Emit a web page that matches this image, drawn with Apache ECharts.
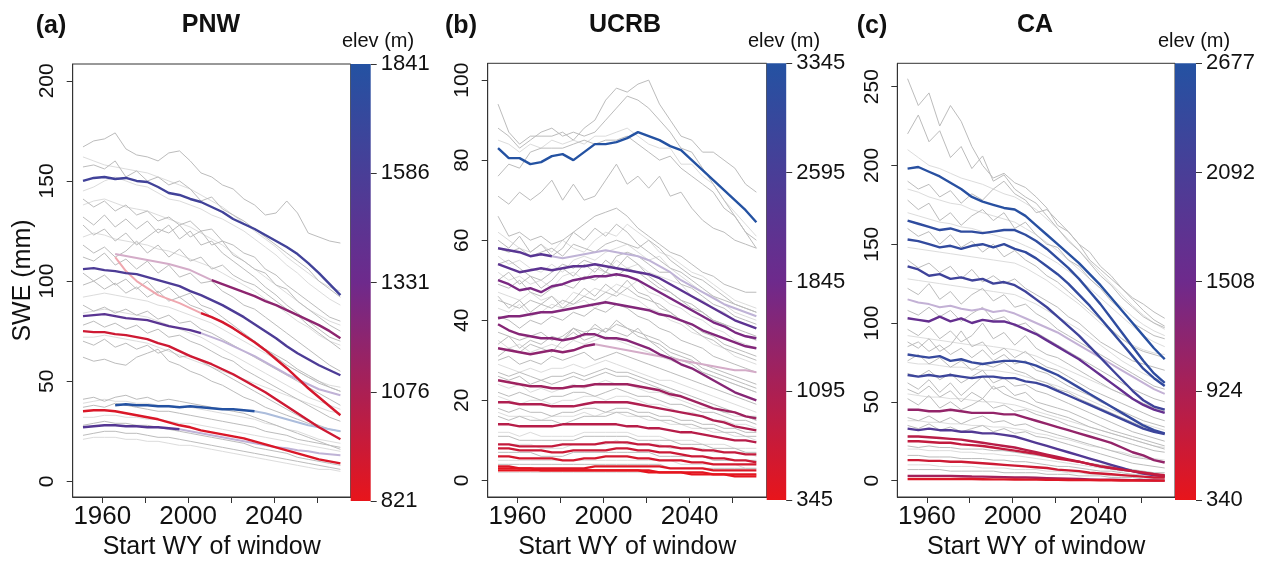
<!DOCTYPE html>
<html><head><meta charset="utf-8">
<script src="https://cdn.jsdelivr.net/npm/echarts@6/dist/echarts.min.js"></script>
<style>html,body{margin:0;background:#fff}#c{width:1270px;height:565px}</style>
</head><body><div id="c"></div>
<script>
const years = [1951,1956,1961,1966,1971,1976,1981,1986,1991,1996,2001,2006,2011,2016,2021,2026,2031,2036,2041,2046,2051,2056,2061,2066,2071];
function seg(start, vals){ const a = new Array(years.length).fill(null); vals.forEach((v,i)=>{a[start+i]=v;}); return a; }

const xTickValues = [1960,1980,2000,2020,2040,2060];
const xLabelValues = [1960,2000,2040];
const panelTitles = ['PNW','UCRB','CA'];
const panelLetters = ['(a)','(b)','(c)'];
const pnwYTicks = [0,50,100,150,200];
const ucrbYTicks = [0,20,40,60,80,100];
const caYTicks = [0,50,100,150,200,250];
const pnwElevTicks = [821,1076,1331,1586,1841];
const ucrbElevTicks = [345,1095,1845,2595,3345];
const caElevTicks = [340,924,1508,2092,2677];

// ---------- PNW ----------
const pnwGreyMid = [
 [167,170,171,174,166,163,162,160,164,165,160,154,152,148,146,141,138,133,134,140,134,124,122,120,119],
 [157,158,156,160,152,155,150,152,148,150,146,140,142,136,133,130,126,122,118,114,110,106,100,96,92],
 [141,137,140,135,138,133,135,130,132,128,130,125,126,120,118,114,112,106,103,98,94,90,86,82,80],
 [132,128,133,127,131,126,130,124,128,121,125,118,120,114,110,106,102,97,93,88,84,80,76,72,70],
 [128,123,126,120,124,118,122,126,124,128,122,125,118,120,113,110,106,104,98,96,90,86,82,78,75],
 [118,114,117,112,115,120,114,118,112,116,110,112,106,108,103,100,98,94,90,86,83,78,74,70,66],
 [112,110,114,108,111,106,110,104,108,102,104,99,100,95,92,88,86,82,78,74,70,66,62,58,55],
 [104,100,103,98,101,96,100,94,97,92,94,88,86,82,78,74,70,66,62,58,55,52,49,47,45],
 [98,100,96,99,94,97,92,95,90,92,88,86,82,80,76,73,70,66,63,60,56,53,50,47,45],
 [88,85,87,84,86,83,85,81,83,79,80,76,74,71,68,65,62,59,56,53,50,47,44,41,38],
 [78,80,77,79,76,78,74,76,72,73,70,68,65,62,60,56,53,50,47,44,41,38,35,32,30],
 [70,68,71,67,69,66,68,64,66,62,63,60,57,54,51,48,45,42,39,36,33,30,28,26,25],
 [62,60,61,59,58,62,64,66,60,58,55,53,50,48,45,42,40,37,35,33,31,29,27,26,25],
 [41,42,40,42,43,41,42,40,41,40,39,38,37,36,35,34,32,30,28,26,24,22,20,18,16],
 [37,38,37,39,38,37,36,35,35,34,33,32,31,30,29,28,27,25,24,23,21,20,19,18,17],
 [28,29,30,29,29,28,28,27,26,25,24,23,22,21,20,19,17,16,15,14,12,11,10,9,8],
 [23,24,25,25,24,24,23,22,22,21,20,19,18,17,16,15,14,13,12,11,10,9,8,7,6]
];
const pnwGreyLight = [
 [162,160,158,157,156,155,154,152,150,148,146,143,140,137,133,129,125,121,117,112,108,104,100,97,95],
 [145,147,150,152,150,148,147,144,141,140,138,136,133,131,128,125,121,117,113,108,104,99,95,91,88],
 [138,140,141,139,137,136,135,133,131,129,127,124,121,118,114,110,106,102,98,94,90,86,83,80,78],
 [122,124,123,121,120,119,118,116,115,113,111,109,107,104,101,98,95,91,88,84,80,77,73,70,68],
 [92,93,94,93,92,91,90,88,87,85,83,81,79,76,73,70,67,64,61,58,55,52,50,48,47],
 [84,85,86,85,84,83,82,80,78,76,74,72,69,66,63,60,57,54,51,48,45,42,40,38,36],
 [72,72,73,72,71,70,69,67,65,63,61,59,57,55,53,51,49,47,45,43,41,39,37,35,34],
 [39,40,41,40,40,39,39,38,38,37,37,36,35,34,33,32,31,29,28,26,25,23,21,20,19],
 [32,32,33,33,32,32,31,31,30,29,29,28,27,26,25,24,23,22,21,20,19,18,17,16,15],
 [21,22,22,22,21,21,20,20,19,18,18,17,16,15,14,13,12,11,10,9,8,7,6,6,5]
];
const pnwColorElev = [1640,1560,1470,1200,930,900,1841,880,1500];
const pnwColorLines = [
 [150,151.5,152,151,151.5,150,149.5,147,144,143,141,139.5,137,134.5,131,128.5,126,123,120,117,113.5,109,104,98.5,93],
 [106,106.5,105.5,105,104,103.5,102,100.5,99,97.5,95,93,90.5,88,85,82,78.5,75,71.5,67.5,64,61,58,55.5,53],
 seg(0,[82.5,83,83.5,82.5,81.5,81,80.5,79,77.5,76.5,75.5,74]),
 seg(12,[100.5,98.5,96.5,94.5,92.5,90,88,85.5,83,80.5,78,75,71.5]),
 [75,74.5,74.5,73.5,73,72,71,69,67.5,65,62.5,60.5,58.5,56,53.5,50.5,47.5,44.5,41,37.5,34,30.5,27,24,21],
 seg(11,[84,82,79.5,76.5,73,69.5,65.5,61,56.5,51.5,46.5,42,37.5,33]),
 seg(3,[38,38.5,38,38,37.5,37.5,37,37.5,37,36.5,36,36,35.5,35]),
 [35,35.5,35.5,35,34,33,32,31,29.5,28,27,25.5,24.5,23.5,22.5,21.5,20,18.5,17,15.5,14,12.5,11,10,9],
 seg(0,[27,27.5,28,28,27.5,27.5,27,27,26.5,26])
];
const pnwFaintElev = [1470,1200,900,1841,1500];
const pnwFaintLines = [
 seg(11,[74,72,70,67.5,65,62.5,59.5,56.5,53.5,51,48.5,46,44.5,43]),
 seg(3,[113.5,112.5,111.5,110.5,109.5,108.5,107,105.5,103,100.5]),
 seg(3,[112,105,100,96.5,93,91,89,86.5,84]),
 seg(16,[35,34,32.5,31,29.5,28,27,26,25]),
 seg(9,[26,25,24,23,22,21,20,19,18,17,16.5,15.5,15,14,13.5,13])
];

// ---------- UCRB ----------
const ucrbGreyMid = [
 [94,87,84,86,86,86,87,85,88,90,95,98,97,99,100,94,90,86,85,82,82,80,78,74,72],
 [88,86,83,85,87,88,86,87,86,87,90,93,96,95,93,90,87,83,82,78,74,70,66,62,60],
 [76,79,78,82,83,83,83,84,85,84,85,85,86,84,82,80,81,78,76,74,72,68,66,62,58],
 [71,69,72,70,72,75,70,74,70,71,75,79,74,76,73,76,71,72,68,65,63,62,60,59,58],
 [66,61,62,60,61,59,60,62,64,66,67,68,66,63,61,59,57,56,54,52,51,49,48,47,47],
 [60,58,61,57,59,56,58,62,60,63,61,64,62,59,57,55,53,52,50,48,46,45,44,43,42],
 [58,57,58,56,57,58,56,59,58,57,59,60,59,58,60,58,55,53,51,50,48,46,44,43,42],
 [54,55,53,51,50,52,54,53,55,54,52,56,57,56,54,52,52,49,48,46,44,43,41,40,39],
 [50,52,49,51,48,50,53,51,54,52,55,53,56,54,51,49,47,45,44,42,40,39,38,37,36],
 [49,48,50,47,46,48,49,48,51,50,52,51,53,52,50,48,47,45,43,42,40,39,37,36,35],
 [46,43,45,42,44,46,43,45,48,46,49,47,50,47,46,43,42,40,38,36,35,33,32,31,30],
 [45,44,43,45,44,43,45,44,46,45,47,46,48,46,45,44,42,40,39,37,36,34,33,32,31],
 [41,40,38,40,39,41,40,42,41,43,42,44,43,41,40,38,37,35,34,33,31,30,29,28,27],
 [37,36,35,36,37,35,36,38,37,38,37,39,38,37,36,35,33,32,31,29,28,27,26,25,24],
 [34,36,33,35,34,36,35,38,36,39,37,40,38,36,35,33,31,30,29,27,26,25,24,23,22],
 [31,33,32,34,33,32,35,37,35,36,38,37,36,38,35,34,32,31,30,28,27,26,25,24,23],
 [30,31,29,30,29,31,30,31,32,30,31,32,31,30,29,28,27,26,25,24,23,22,21,20,19],
 [27,26,27,26,25,26,26,27,26,27,28,27,27,26,25,24,23,22,21,20,19,18,17,16,16],
 [26,25,26,24,25,24,25,26,25,26,27,26,26,25,24,23,22,21,20,19,18,17,17,16,15],
 [22,21,22,21,20,21,21,22,22,21,22,23,22,21,21,20,19,19,18,17,17,16,15,15,14],
 [18,17,18,17,17,16,17,17,18,18,17,18,18,17,17,16,16,15,15,14,14,13,13,12,12],
 [16,15,16,15,15,15,14,15,16,16,16,17,17,16,16,15,15,14,14,13,13,12,12,11,11],
 [11,11,10,10,10,10,10,10,11,11,11,11,11,10,10,10,10,9,9,9,8,8,8,7,7],
 [7,7,7,7,6,6,6,7,7,7,7,7,7,7,7,6,6,6,6,6,5,5,5,5,5],
 [4,4,4,4,4,4,4,4,4,4,4,4,4,4,4,4,3,3,3,3,3,3,3,3,3]
];
const ucrbGreyLight = [
 [85,84,82,84,83,85,84,85,84,86,86,87,88,86,84,83,83,79,79,76,74,70,67,64,61],
 [62,60,58,57,59,57,60,58,57,60,62,61,64,62,60,57,56,54,52,51,49,47,45,44,43],
 [56,54,55,53,52,54,52,55,56,55,57,58,59,57,55,56,53,51,49,47,46,44,42,41,40],
 [52,50,51,49,50,48,51,52,50,53,52,55,53,54,52,51,50,49,46,45,43,42,40,39,38],
 [47,46,45,47,45,46,44,47,46,48,47,49,48,50,47,46,44,43,41,40,38,37,35,34,33],
 [43,42,44,41,42,44,43,44,45,43,45,47,46,45,43,42,40,39,37,36,34,33,31,30,29],
 [35,33,34,32,33,34,33,35,34,35,36,35,34,33,32,31,30,29,28,27,26,25,24,23,22],
 [29,28,27,28,27,28,28,29,28,29,30,29,28,27,26,25,25,24,23,22,21,20,19,18,17],
 [24,23,24,22,23,22,23,24,23,24,25,24,24,23,22,22,21,20,19,18,18,17,16,16,15],
 [21,20,19,20,20,19,20,20,21,21,20,21,21,20,19,19,18,17,17,16,15,15,14,14,13],
 [17,16,16,16,15,16,16,16,17,16,17,17,16,16,15,15,14,14,13,13,12,12,11,11,10],
 [12,12,11,12,11,11,11,11,12,12,12,12,12,11,11,11,10,10,10,9,9,9,8,8,8],
 [9,9,9,9,8,8,8,9,9,9,9,10,9,9,9,9,8,8,8,8,7,7,7,7,6],
 [5,5,5,5,5,5,5,5,5,5,5,5,5,5,5,5,5,4,4,4,4,4,4,3,3],
 [2,2,2,2,2,2,2,2,2,2,2,2,2,2,2,2,2,2,2,2,1.5,1.5,1.5,1.5,1.5]
];
const ucrbColorElev = [3345,2300,2200,1700,1600,1550,1450,1250,1050,950,800,700,600,500,420,380];
const ucrbColorLines = [
 [83,80.5,80.5,79,79.5,81,81.5,80,82,84,84,84.5,85.5,87,86,85,83.5,82.5,80,77.5,75,72.5,70,67.5,64.5],
 seg(0,[58,57.5,57,56,56.5,56]),
 [54,53,52,52.5,53,52.5,53,53.5,53.5,54,53.5,53,52.5,52,51.5,50.5,49,47.5,46,44.5,43,41.5,40,39,38],
 [50,49,47.5,48,47,48.5,49,50,50.5,51,51,51.5,51,50,48.5,47,45.5,44,42.5,41,39.5,38.5,37,36,35.5],
 [40.5,41,41,41.5,42,42,42.5,43,43.5,44,44.5,44,43.5,43,42.5,41.5,41,40,39,37.5,36.5,35.5,34.5,33.5,33],
 [39,37.5,36.5,36,35.5,35.5,35,35.5,36.5,36.5,35.5,35.5,35,34,33,31.5,30.5,29,28,26.5,25,23.5,22,21,20],
 seg(0,[33,32.5,32,31.5,32,32.5,32,32.5,33.5,34]),
 [25,24.5,24,23.5,23.5,23,23,23.5,23.5,24,24,24,24,23.5,23,22.5,21.5,21,20,19,18,17.5,17,16,15.5],
 [19.5,19.5,19,19,19,18.5,18.5,18.5,19,19.5,19.5,19.5,19.5,19,18.5,18,17.5,17,16.5,16,15,14.5,13.5,13,12.5],
 [14,14,13.5,13.5,13.5,13.5,14,14,14,14,14,14,13.5,13.5,13,13,12.5,12,12,11.5,11,10.5,10,10,9.5],
 [9,9,8.5,8.5,8.5,8.5,9,9,9,9,9.5,9.5,9.5,9,9,8.5,8.5,8,8,7.5,7.5,7,7,6.5,6.5],
 [8,8,7.5,7.5,7.5,7,7,7.5,7.5,7.5,7.5,8,8,7.5,7.5,7,7,6.5,6,6,5.5,5.5,5,5,4.5],
 [6,6,5.5,5.5,5.5,5.5,5,5,5.5,5.5,6,6,6,5.5,5.5,5,5,5,4.5,4.5,4,4,4,4,4],
 [3.5,3.5,3,3,3,3,3,3,3,3.5,3.5,3.5,3.5,3.5,3.5,3.5,3,3,3,3,2.5,2.5,2.5,2.5,2.5],
 [3,3,3,3,2.5,2.5,2.5,2.5,2.5,2.5,2.5,2.5,2.5,2.5,2.5,2,2,2,2,2,1.5,1.5,1.5,1.5,1.5],
 [2.5,2.5,2.5,2.5,2.5,2.5,2.5,2.5,2.5,2.5,2.5,2.5,2.5,2.5,2,2,2,2,1.5,1.5,1.5,1.5,1,1,1]
];
const ucrbFaintElev = [2300,1450];
const ucrbFaintLines = [
 seg(5,[56,55.5,56,56.5,57,57.5,57,56.5,56,55,53.5,52,50,48.5,47,45.5,44,43,42,41]),
 seg(9,[34,33.5,33,32.5,32,31.5,31,30.5,30,29.5,29,28.5,28,27.5,27.5,27])
];

// ---------- CA ----------
const caGreyMid = [
 [255,238,246,225,238,228,212,200,192,195,189,186,180,173,162,158,150,140,134,128,122,116,112,107,103],
 [220,232,215,222,205,212,198,206,190,194,185,180,176,168,160,152,146,138,130,124,116,110,104,100,97],
 [190,185,188,180,184,176,182,178,185,190,182,178,170,172,165,158,150,145,136,130,122,115,108,102,98],
 [178,172,176,165,170,162,168,172,165,170,160,164,156,150,148,140,136,128,122,114,108,100,96,92,90],
 [160,155,158,150,156,148,152,145,150,142,146,140,136,130,126,120,114,108,102,96,90,85,82,80,78],
 [140,135,138,132,136,128,134,126,130,125,128,122,118,114,110,104,100,94,88,84,80,76,74,72,70],
 [122,118,125,115,120,112,118,122,114,118,110,112,106,102,96,92,88,84,80,76,72,68,64,60,58],
 [108,105,110,104,108,101,106,110,102,104,98,100,94,90,86,82,78,74,70,66,62,58,55,52,50],
 [96,92,98,90,95,88,92,100,90,94,86,92,84,80,78,74,70,66,62,58,55,52,49,46,44],
 [88,84,90,82,86,95,85,88,80,84,78,82,76,72,70,66,62,58,55,52,49,46,43,40,38],
 [85,88,82,86,80,84,78,83,76,80,74,76,70,68,64,60,57,54,50,47,44,41,38,36,34],
 [76,80,74,78,72,76,70,74,72,75,70,68,64,62,58,56,52,49,46,43,40,37,34,32,30],
 [68,66,70,64,68,62,66,70,62,65,60,61,57,55,52,49,46,43,40,37,34,31,29,27,25],
 [62,58,64,56,62,54,60,66,58,60,54,56,50,48,46,44,41,38,35,32,30,28,26,24,22],
 [58,55,60,53,57,50,56,52,60,55,52,50,47,44,42,40,37,34,32,30,28,26,24,22,20],
 [52,48,54,46,50,45,48,52,46,48,44,45,42,40,38,35,33,31,29,27,25,23,21,19,18],
 [40,38,41,37,40,36,39,41,37,38,35,36,33,31,29,27,25,23,21,19,17,15,14,13,12],
 [35,33,36,32,34,31,33,35,31,33,30,31,28,27,25,23,21,19,17,15,13,11,10,9,8],
 [22,21,22,21,21,20,20,20,19,19,18,17,16,15,14,13,12,11,10,9,8,7,6,5,5],
 [16,16,15,15,15,14,14,14,13,13,12,12,11,10,9,9,8,7,6,6,5,4,4,3,3],
 [7,7,7,7,6,6,6,6,6,5,5,5,5,4,4,4,3,3,3,2,2,2,1,1,1]
];
const caGreyLight = [
 [210,205,200,198,195,192,190,188,185,182,180,176,172,166,160,153,146,139,132,125,118,111,105,100,96],
 [185,183,180,178,176,175,172,170,168,166,164,160,156,151,146,140,134,128,122,116,110,104,99,95,92],
 [170,168,166,164,163,161,160,158,156,154,152,149,146,142,138,133,128,122,116,110,104,98,92,88,85],
 [148,147,146,145,144,143,142,141,140,139,138,135,131,127,122,117,112,106,100,95,90,86,83,81,80],
 [128,127,126,125,124,123,122,121,120,119,118,115,112,108,104,100,96,91,86,81,76,72,68,65,63],
 [92,91,90,89,88,87,86,86,85,84,83,81,79,76,73,70,67,64,61,58,55,52,49,47,45],
 [75,74,74,73,72,72,71,70,70,69,68,66,64,62,60,57,54,51,48,45,42,39,36,34,32],
 [55,54,53,53,52,52,51,50,50,49,48,46,44,42,40,38,36,34,32,30,28,26,24,22,21],
 [38,38,37,37,36,36,35,35,34,34,33,32,30,29,27,26,24,22,21,19,18,16,15,14,13],
 [20,20,19,19,19,18,18,17,17,16,16,15,14,13,12,11,10,9,8,7,6,6,5,4,4],
 [10,10,10,9,9,9,9,8,8,8,7,7,7,6,6,5,5,4,4,3,3,3,2,2,2]
];
const caColorElev = [2620,2500,2450,2250,1650,2400,2300,1150,1950,800,700,600,1000,450];
const caColorLines = [
 [198,199,196,193,189,185,180,177,175,173,172,168,162,156,150,144,138,131,124,116,108,100,92,84,77],
 [165,163,161,159,160,158,158,157,158,159,159,156,152,147,141,135,128,120,112,103,94,85,76,68,62],
 [153,152,150,148,149,147,149,150,148,150,147,145,141,136,131,125,118,111,103,95,87,79,71,65,60],
 [136,134,130,131,128,129,127,128,125,126,124,120,115,110,104,98,92,85,78,71,64,57,51,47,45],
 [103,102,101,104,101,103,100,102,101,101,99,96,93,89,85,81,77,72,67,62,57,52,48,45,43],
 [80,79,78,79,76,77,75,74,75,76,76,75,73,70,67,63,59,55,51,47,43,39,35,32,30],
 [67,66,67,66,67,66,65,66,66,65,65,63,62,60,57,54,51,48,45,42,39,36,33,31,29.5],
 [45,45,44,44,45,44,43,43,43,42,42,40,38,36,34,32,30,28,26,24,21,18,16,13,11.5],
 [33,32,33,32,32,31,31,30,30,29,28,26,24,22,20,18,16,14,12,10,8,6,4.5,3.5,2.5],
 [28,28,27.5,27,26.5,26,25,24,23,22,21,19.5,18,16.5,15,13.5,12,10.5,9,8,7,6,5,4,3],
 [25,25,24.5,24,24,23,22.5,22,21,20,19,18,17,15.5,14,13,12,10.5,9,8,7,6,5,4,3.5],
 [13,13,12.5,12.5,12,12,11.5,11,10.5,10,9.5,9,8.5,8,7,6.5,6,5,4.5,4,3.5,3,2.5,2,2],
 [3,3,3,3,3,2.8,2.6,2.5,2.4,2.2,2,2,1.8,1.6,1.4,1.2,1,0.8,0.6,0.5,0.4,0.3,0.2,0.1,0],
 [1,1,1,1,1,1,1,0.9,0.8,0.8,0.7,0.6,0.6,0.5,0.5,0.4,0.3,0.3,0.2,0.2,0.1,0.1,0,0,0]
];
const caFaintElev = [1700];
const caFaintLines = [
 [115,113,112,110,111,109,108,109,107,108,106,103,100,97,94,90,86,82,78,74,70,66,62,58,55]
];

// ---------- layout & style ----------
const FONT = 'Liberation Sans, Arial, sans-serif';
const RED=[232,21,27], PURPLE=[110,42,140], BLUE=[36,82,162];
function rgb(c){return 'rgb('+c.map(v=>Math.round(v)).join(',')+')';}
function lerp(a,b,t){return a.map((v,i)=>v+(b[i]-v)*t);}
function elevRGB(e,min,max){let t=(e-min)/(max-min);t=Math.max(0,Math.min(1,t));return t<0.5?lerp(RED,PURPLE,t*2):lerp(PURPLE,BLUE,(t-0.5)*2);}
function faintRGB(c){return lerp(c,[255,255,255],0.62);}
const plain = v => String(v);

const panels = [
 {grid:{left:72.7,top:64,width:278,height:436.7}, cb:{left:350.7,top:64,width:20,height:437}, ymin:-7.8, ymax:208.4, yt:pnwYTicks, et:pnwElevTicks,
  gm:pnwGreyMid, gl:pnwGreyLight, ce:pnwColorElev, cl:pnwColorLines, fe:pnwFaintElev, fl:pnwFaintLines, letterX:51, titleX:211, elevX:378, yname:'SWE (mm)'},
 {grid:{left:487.7,top:63.3,width:279,height:436.7}, cb:{left:766.7,top:63.3,width:19.5,height:436.7}, ymin:-4.16, ymax:104.2, yt:ucrbYTicks, et:ucrbElevTicks,
  gm:ucrbGreyMid, gl:ucrbGreyLight, ce:ucrbColorElev, cl:ucrbColorLines, fe:ucrbFaintElev, fl:ucrbFaintLines, letterX:461, titleX:625, elevX:784, yname:''},
 {grid:{left:897.3,top:63.3,width:277.7,height:436.7}, cb:{left:1175,top:63.3,width:21,height:436.7}, ymin:-10.4, ymax:264.8, yt:caYTicks, et:caElevTicks,
  gm:caGreyMid, gl:caGreyLight, ce:caColorElev, cl:caColorLines, fe:caFaintElev, fl:caFaintLines, letterX:872, titleX:1035, elevX:1194, yname:''}
];

const grid=[], xAxis=[], yAxis=[], series=[], graphic=[];
panels.forEach((p,k)=>{
  const gi = grid.length;
  grid.push(Object.assign({show:true,borderColor:'#333',borderWidth:1,backgroundColor:'transparent',containLabel:false},p.grid));
  xAxis.push({type:'value',gridIndex:gi,min:1946.2,max:2075.8,splitLine:{show:false},
    axisLine:{show:true,onZero:false,lineStyle:{color:'#333',width:1}},
    axisTick:{show:true,inside:false,length:6,lineStyle:{color:'#333'},customValues:xTickValues},
    axisLabel:{show:true,customValues:xLabelValues,formatter:plain,fontFamily:FONT,fontSize:26,color:'#111',margin:7},
    name:'Start WY of window',nameLocation:'middle',nameGap:38,nameTextStyle:{fontFamily:FONT,fontSize:25,color:'#111'}});
  yAxis.push({type:'value',gridIndex:gi,min:p.ymin,max:p.ymax,splitLine:{show:false},
    axisLine:{show:true,onZero:false,lineStyle:{color:'#333',width:1}},
    axisTick:{show:true,inside:false,length:6,lineStyle:{color:'#333'},customValues:p.yt},
    axisLabel:{show:true,customValues:p.yt,formatter:plain,rotate:90,fontFamily:FONT,fontSize:21,color:'#111',margin:15},
    name:p.yname,nameLocation:'middle',nameGap:27,nameRotate:90,nameTextStyle:{fontFamily:FONT,fontSize:25,color:'#111'}});
  const add=(vals,color,width,z)=>{
    series.push({type:'line',xAxisIndex:gi,yAxisIndex:gi,data:years.map((y,i)=>[y,vals[i]]),showSymbol:false,symbol:'none',
      lineStyle:{color:color,width:width},silent:true,animation:false,z:z,connectNulls:false});
  };
  p.gl.forEach(v=>add(v,'#dcdcdc',1,2));
  p.gm.forEach(v=>add(v,'#bcbcbc',1,3));
  const emin=p.et[0], emax=p.et[p.et.length-1];
  p.fl.forEach((v,i)=>add(v,rgb(faintRGB(elevRGB(p.fe[i],emin,emax))),2,4));
  p.cl.forEach((v,i)=>add(v,rgb(elevRGB(p.ce[i],emin,emax)),2.4,5));

  // colour bar
  const ci = grid.length;
  grid.push(Object.assign({show:false,containLabel:false},p.cb));
  xAxis.push({type:'category',gridIndex:ci,data:['elev'],show:false,boundaryGap:true});
  yAxis.push({type:'value',gridIndex:ci,position:'right',min:emin,max:emax,splitLine:{show:false},
    axisLine:{show:false},
    axisTick:{show:true,inside:false,length:6,lineStyle:{color:'#333'},customValues:p.et},
    axisLabel:{show:true,customValues:p.et,formatter:plain,fontFamily:FONT,fontSize:22,color:'#111',margin:10}});
  series.push({type:'bar',xAxisIndex:ci,yAxisIndex:ci,stack:'cb'+k,data:[emin],barWidth:'100%',itemStyle:{color:'transparent'},silent:true,animation:false});
  series.push({type:'bar',xAxisIndex:ci,yAxisIndex:ci,stack:'cb'+k,data:[emax-emin],barWidth:'100%',silent:true,animation:false,
    itemStyle:{color:new echarts.graphic.LinearGradient(0,0,0,1,[{offset:0,color:rgb(BLUE)},{offset:0.5,color:rgb(PURPLE)},{offset:1,color:rgb(RED)}])}});

  graphic.push({type:'text',style:{text:panelLetters[k],x:p.letterX,y:26,font:'bold 25px '+FONT,fill:'#111',textAlign:'center',textVerticalAlign:'middle'}});
  graphic.push({type:'text',style:{text:panelTitles[k],x:p.titleX,y:25,font:'bold 25px '+FONT,fill:'#111',textAlign:'center',textVerticalAlign:'middle'}});
  graphic.push({type:'text',style:{text:'elev (m)',x:p.elevX,y:41,font:'20px '+FONT,fill:'#111',textAlign:'center',textVerticalAlign:'middle'}});
});

const chart = echarts.init(document.getElementById('c'),null,{renderer:'canvas'});
chart.setOption({animation:false,backgroundColor:'#fff',grid,xAxis,yAxis,series,graphic});
</script>
</body></html>
